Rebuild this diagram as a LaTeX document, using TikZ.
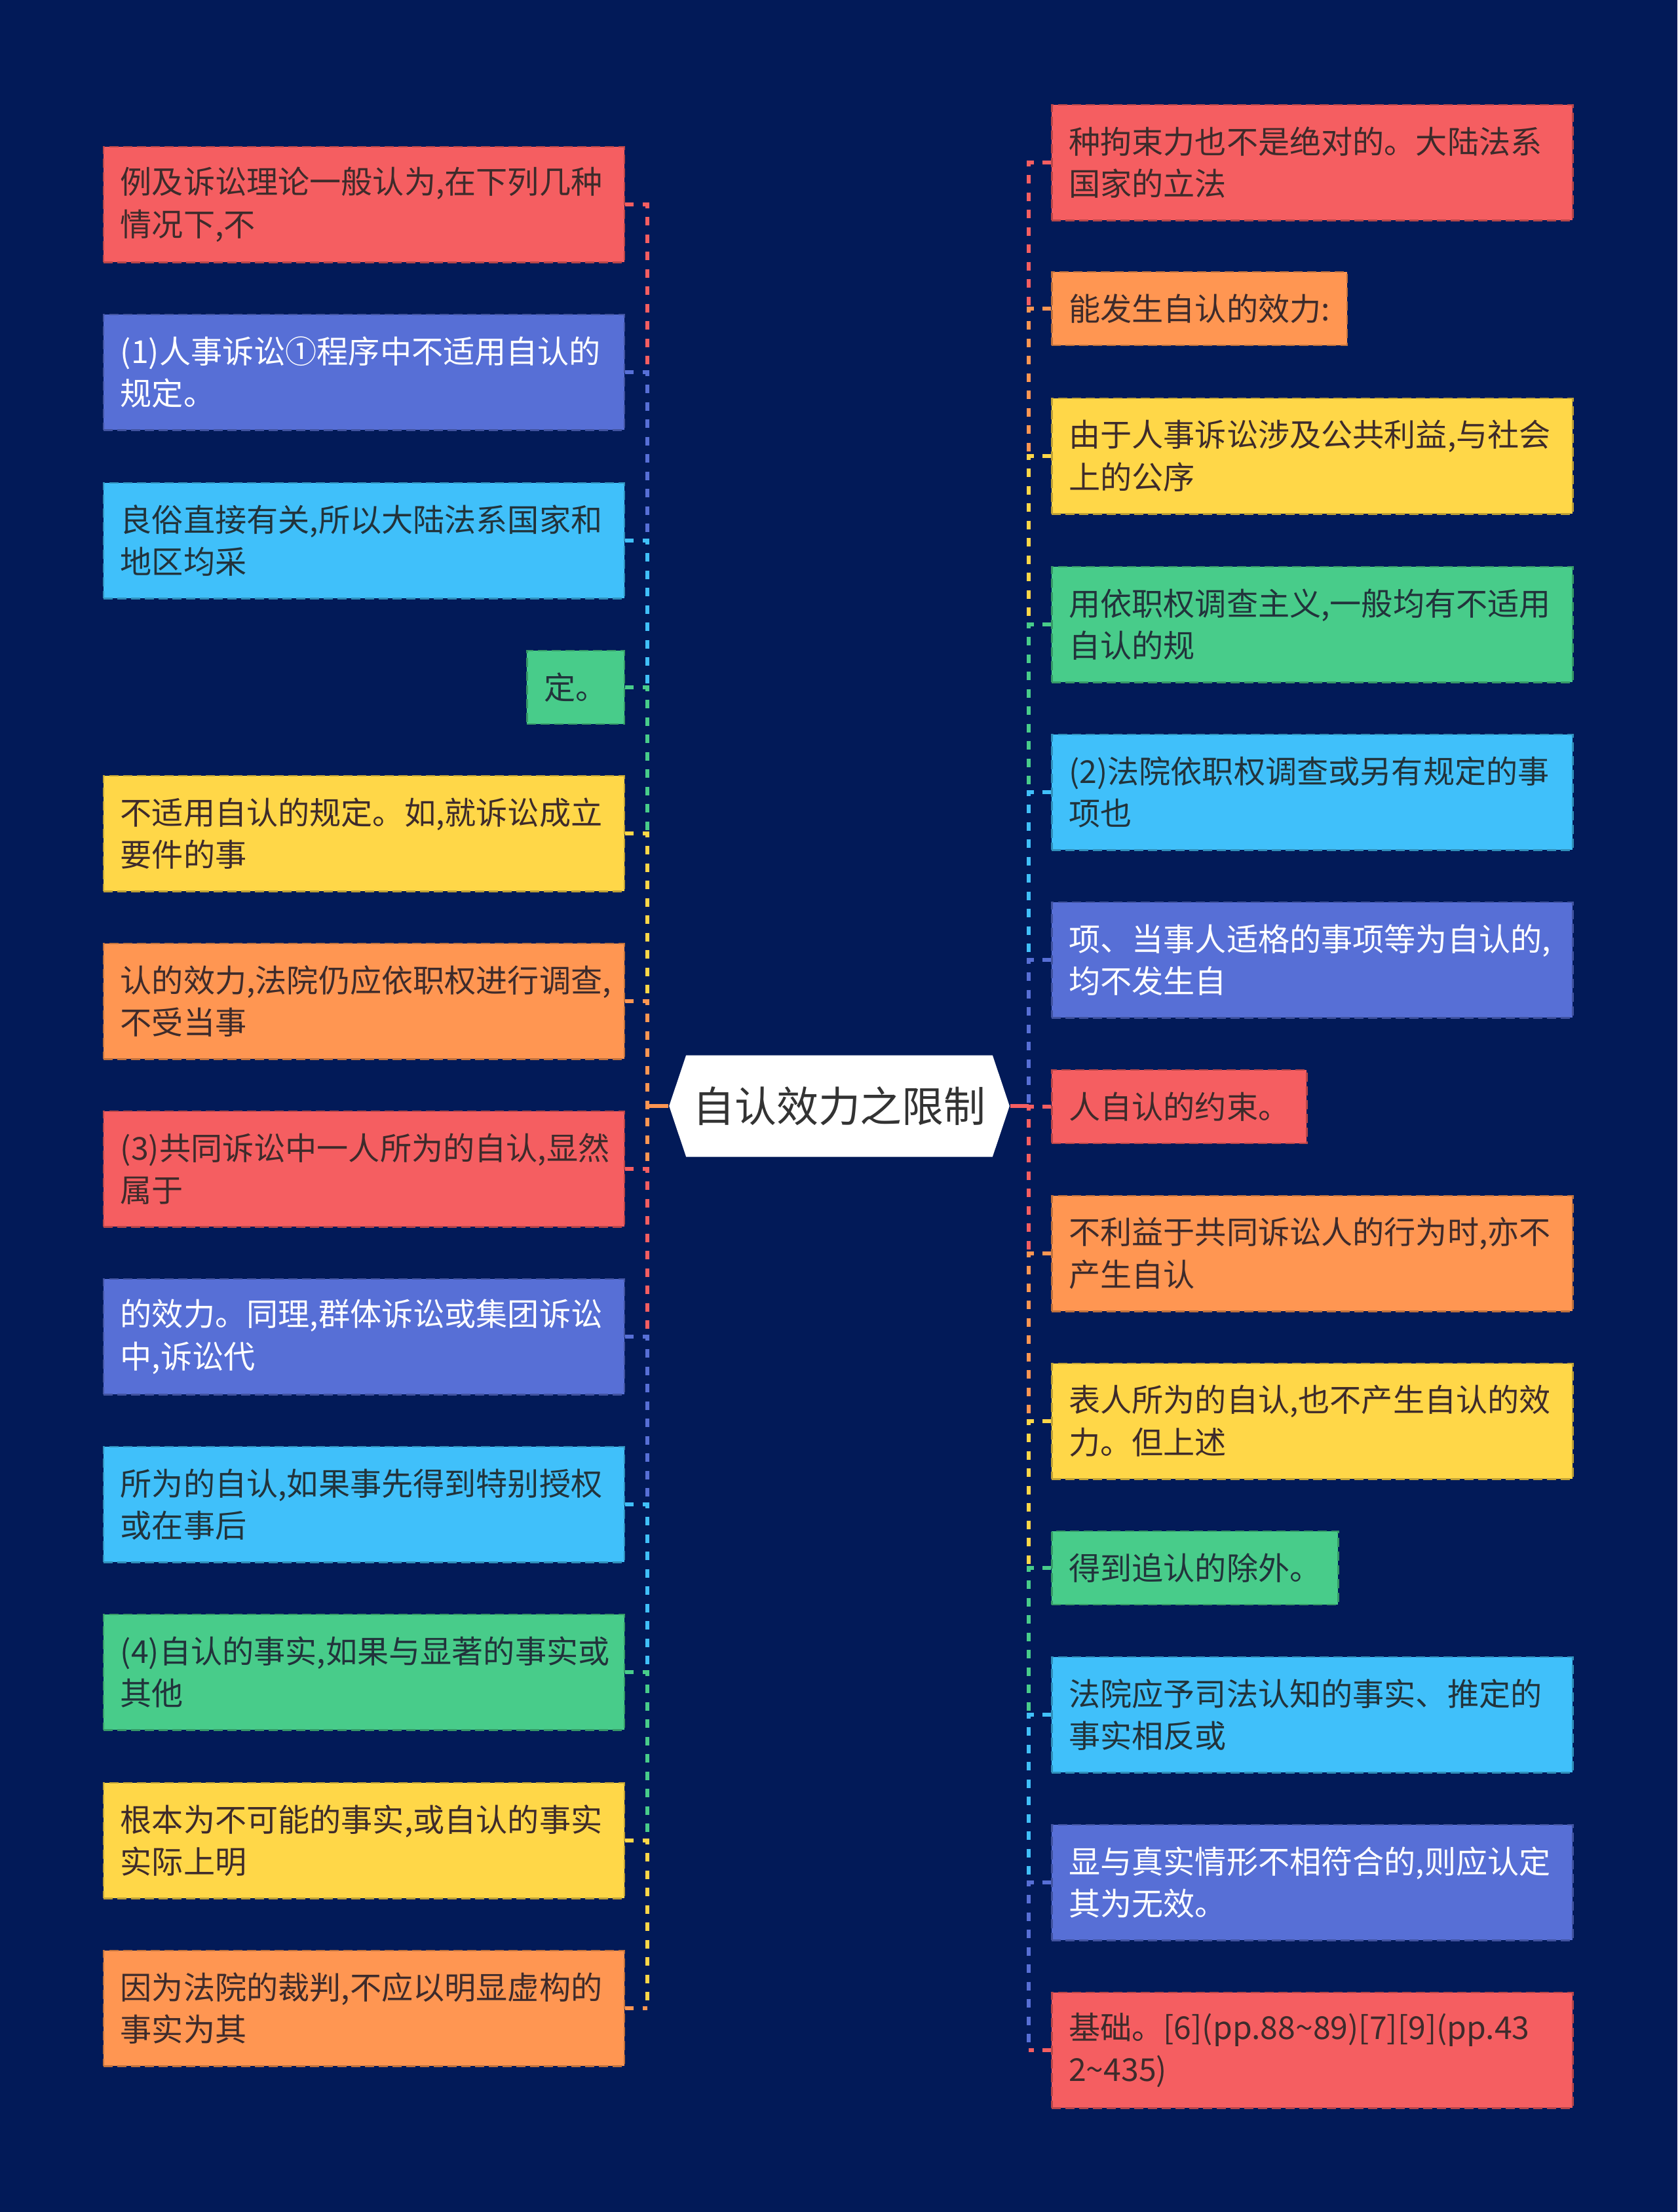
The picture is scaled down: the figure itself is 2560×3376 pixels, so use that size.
\documentclass[tikz,border=0pt]{standalone}
\usepackage{fontspec}
\setmainfont{Noto Sans CJK SC}
\usepackage{tikz}
\usetikzlibrary{positioning,shapes.symbols}
\definecolor{mapnavy}{RGB}{2,26,88}
\definecolor{mapred}{RGB}{245,94,97}
\definecolor{maporange}{RGB}{255,150,82}
\definecolor{mapyellow}{RGB}{255,215,72}
\definecolor{mapgreen}{RGB}{72,204,138}
\definecolor{mapcyan}{RGB}{64,192,250}
\definecolor{mapblue}{RGB}{87,111,214}
\definecolor{warmink}{RGB}{62,43,43}
\definecolor{coolink}{RGB}{34,51,59}
\definecolor{hubink}{RGB}{51,51,51}
\tikzset{
    redcard/.style={
        draw=mapred!75!black,
        fill=mapred,
        text=warmink,
        line width=0.25mm,
        dash pattern=on 1.4mm off 0.7mm,
        align=left,
        font={\fontsize{13.7pt}{18.4pt}\selectfont},
        inner xsep=2.6mm,
        minimum height=11.2mm
    },
    orangecard/.style={
        draw=maporange!75!black,
        fill=maporange,
        text=warmink,
        line width=0.25mm,
        dash pattern=on 1.4mm off 0.7mm,
        align=left,
        font={\fontsize{13.7pt}{18.4pt}\selectfont},
        inner xsep=2.6mm,
        minimum height=11.2mm
    },
    yellowcard/.style={
        draw=mapyellow!75!black,
        fill=mapyellow,
        text=warmink,
        line width=0.25mm,
        dash pattern=on 1.4mm off 0.7mm,
        align=left,
        font={\fontsize{13.7pt}{18.4pt}\selectfont},
        inner xsep=2.6mm,
        minimum height=11.2mm
    },
    greencard/.style={
        draw=mapgreen!75!black,
        fill=mapgreen,
        text=coolink,
        line width=0.25mm,
        dash pattern=on 1.4mm off 0.7mm,
        align=left,
        font={\fontsize{13.7pt}{18.4pt}\selectfont},
        inner xsep=2.6mm,
        minimum height=11.2mm
    },
    cyancard/.style={
        draw=mapcyan!75!black,
        fill=mapcyan,
        text=coolink,
        line width=0.25mm,
        dash pattern=on 1.4mm off 0.7mm,
        align=left,
        font={\fontsize{13.7pt}{18.4pt}\selectfont},
        inner xsep=2.6mm,
        minimum height=11.2mm
    },
    bluecard/.style={
        draw=mapblue!75!black,
        fill=mapblue,
        text=white,
        line width=0.25mm,
        dash pattern=on 1.4mm off 0.7mm,
        align=left,
        font={\fontsize{13.7pt}{18.4pt}\selectfont},
        inner xsep=2.6mm,
        minimum height=11.2mm
    },
    twoline/.style={
        text width=74.3mm,
        minimum height=17.65mm
    },
    hubnode/.style={
        shape=signal,
        signal to=west and east,
        signal pointer angle=143,
        fill=white,
        text=hubink,
        font={\fontsize{18.2pt}{20pt}\selectfont},
        inner xsep=1mm,
        minimum width=51.5mm,
        minimum height=15.5mm
    },
    link/.style={draw=#1, line width=0.55mm, dash pattern=on 1.3mm off 1.35mm},
    hublink/.style={draw=#1, line width=0.55mm}
}

\begin{document}
\begin{tikzpicture}[x=0.1mm, y=-0.1mm]

% Canvas
\useasboundingbox (0,0) rectangle (2560,3376);
\fill[mapnavy] (0,0) rectangle (2560,3376);

% Trunk positions
\coordinate (tL) at (988,0);
\coordinate (tR) at (1570,0);

% Central topic
\node[hubnode] (C) at (1281,1688) {自认效力之限制};

% Left cards
\node[redcard, twoline, anchor=east] (L1) at (954,312) {例及诉讼理论一般认为,在下列几种\\情况下,不};
\node[bluecard, twoline, anchor=east] (L2) at (954,568) {(1)人事诉讼①程序中不适用自认的\\规定。};
\node[cyancard, twoline, anchor=east] (L3) at (954,825) {良俗直接有关,所以大陆法系国家和\\地区均采};
\node[greencard, anchor=east] (L4) at (954,1049) {定。};
\node[yellowcard, twoline, anchor=east] (L5) at (954,1272) {不适用自认的规定。如,就诉讼成立\\要件的事};
\node[orangecard, twoline, anchor=east] (L6) at (954,1528) {认的效力,法院仍应依职权进行调查,\\不受当事};
\node[redcard, twoline, anchor=east] (L7) at (954,1784) {(3)共同诉讼中一人所为的自认,显然\\属于};
\node[bluecard, twoline, anchor=east] (L8) at (954,2040) {的效力。同理,群体诉讼或集团诉讼\\中,诉讼代};
\node[cyancard, twoline, anchor=east] (L9) at (954,2296) {所为的自认,如果事先得到特别授权\\或在事后};
\node[greencard, twoline, anchor=east] (L10) at (954,2552) {(4)自认的事实,如果与显著的事实或\\其他};
\node[yellowcard, twoline, anchor=east] (L11) at (954,2809) {根本为不可能的事实,或自认的事实\\实际上明};
\node[orangecard, twoline, anchor=east] (L12) at (954,3065) {因为法院的裁判,不应以明显虚构的\\事实为其};

% Right cards
\node[redcard, twoline, anchor=west] (R1) at (1604,248) {种拘束力也不是绝对的。大陆法系\\国家的立法};
\node[orangecard, anchor=west] (R2) at (1604,471) {能发生自认的效力:};
\node[yellowcard, twoline, anchor=west] (R3) at (1604,696) {由于人事诉讼涉及公共利益,与社会\\上的公序};
\node[greencard, twoline, anchor=west] (R4) at (1604,953) {用依职权调查主义,一般均有不适用\\自认的规};
\node[cyancard, twoline, anchor=west] (R5) at (1604,1209) {(2)法院依职权调查或另有规定的事\\项也};
\node[bluecard, twoline, anchor=west] (R6) at (1604,1465) {项、当事人适格的事项等为自认的,\\均不发生自};
\node[redcard, anchor=west] (R7) at (1604,1689) {人自认的约束。};
\node[orangecard, twoline, anchor=west] (R8) at (1604,1913) {不利益于共同诉讼人的行为时,亦不\\产生自认};
\node[yellowcard, twoline, anchor=west] (R9) at (1604,2169) {表人所为的自认,也不产生自认的效\\力。但上述};
\node[greencard, anchor=west] (R10) at (1604,2393) {得到追认的除外。};
\node[cyancard, twoline, anchor=west] (R11) at (1604,2617) {法院应予司法认知的事实、推定的\\事实相反或};
\node[bluecard, twoline, anchor=west] (R12) at (1604,2873) {显与真实情形不相符合的,则应认定\\其为无效。};
\node[redcard, twoline, anchor=west] (R13) at (1604,3129) {基础。[6](pp.88\textasciitilde89)[7][9](pp.43\\2\textasciitilde435)};

% Left branch
\draw[hublink=maporange] (C.west) -- (C.west -| tL);
\draw[link=mapred] (L1.east) -- (L1.east -| tL) -- (L2.east -| tL);
\draw[link=mapblue] (L2.east) -- (L2.east -| tL) -- (L3.east -| tL);
\draw[link=mapcyan] (L3.east) -- (L3.east -| tL) -- (L4.east -| tL);
\draw[link=mapgreen] (L4.east) -- (L4.east -| tL) -- (L5.east -| tL);
\draw[link=mapyellow] (L5.east) -- (L5.east -| tL) -- (L6.east -| tL);
\draw[link=maporange] (L6.east) -- (L6.east -| tL) -- (L7.east -| tL);
\draw[link=mapred] (L7.east) -- (L7.east -| tL) -- (L8.east -| tL);
\draw[link=mapblue] (L8.east) -- (L8.east -| tL) -- (L9.east -| tL);
\draw[link=mapcyan] (L9.east) -- (L9.east -| tL) -- (L10.east -| tL);
\draw[link=mapgreen] (L10.east) -- (L10.east -| tL) -- (L11.east -| tL);
\draw[link=mapyellow] (L11.east) -- (L11.east -| tL) -- (L12.east -| tL);
\draw[link=maporange] (L12.east) -- (L12.east -| tL);

% Right branch
\draw[hublink=mapred] (C.east) -- (C.east -| tR);
\draw[link=mapred] (R1.west) -- (R1.west -| tR) -- (R2.west -| tR);
\draw[link=maporange] (R2.west) -- (R2.west -| tR) -- (R3.west -| tR);
\draw[link=mapyellow] (R3.west) -- (R3.west -| tR) -- (R4.west -| tR);
\draw[link=mapgreen] (R4.west) -- (R4.west -| tR) -- (R5.west -| tR);
\draw[link=mapcyan] (R5.west) -- (R5.west -| tR) -- (R6.west -| tR);
\draw[link=mapblue] (R6.west) -- (R6.west -| tR) -- (R7.west -| tR);
\draw[link=mapred] (R7.west) -- (R7.west -| tR) -- (R8.west -| tR);
\draw[link=maporange] (R8.west) -- (R8.west -| tR) -- (R9.west -| tR);
\draw[link=mapyellow] (R9.west) -- (R9.west -| tR) -- (R10.west -| tR);
\draw[link=mapgreen] (R10.west) -- (R10.west -| tR) -- (R11.west -| tR);
\draw[link=mapcyan] (R11.west) -- (R11.west -| tR) -- (R12.west -| tR);
\draw[link=mapblue] (R12.west) -- (R12.west -| tR) -- (R13.west -| tR);
\draw[link=mapred] (R13.west) -- (R13.west -| tR);

\end{tikzpicture}
\end{document}
